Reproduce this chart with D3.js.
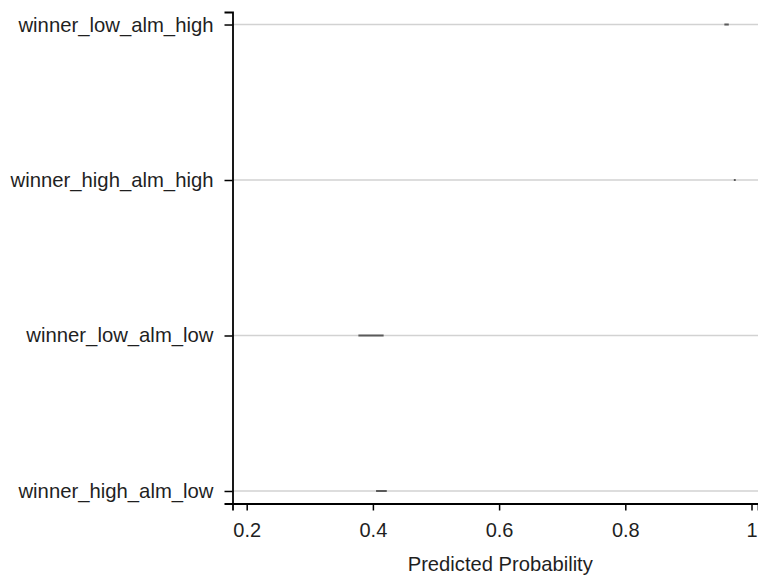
<!DOCTYPE html>
<html>
<head>
<meta charset="utf-8">
<script src="https://cdn.jsdelivr.net/npm/d3@7"></script>
<style>
  html, body { margin: 0; padding: 0; background: #fff; }
  svg { display: block; }
  text { font-family: "Liberation Sans", Arial, Helvetica, sans-serif; fill: #1f1f1f; }
</style>
</head>
<body>
<svg id="chart" width="758" height="576"></svg>
<script>
// Predicted probability intervals by group, listed top to bottom
const categories = ["winner_low_alm_high", "winner_high_alm_high", "winner_low_alm_low", "winner_high_alm_low"];
const lowerBounds = [0.957, 0.972, 0.377, 0.405];
const upperBounds = [0.964, 0.975, 0.417, 0.422];
const xTicks = [0.2, 0.4, 0.6, 0.8, 1];
const xTickLabels = ["0.2", "0.4", "0.6", "0.8", "1"];
const xTitle = "Predicted Probability";

const svg = d3.select("#chart");
const plotLeft = 232.5, plotRight = 758, plotTop = 12, plotBottom = 503.5;

const x = d3.scaleLinear().domain([0.1775, 1.0103]).range([plotLeft, plotRight]);
const y = d3.scalePoint().domain(categories).range([plotTop, plotBottom]).padding(0.0805);

// horizontal reference lines at each category
svg.append("g").selectAll("line").data(categories).join("line")
  .attr("x1", plotLeft).attr("x2", plotRight)
  .attr("y1", d => y(d)).attr("y2", d => y(d))
  .attr("stroke", "#d2d2d2").attr("stroke-width", 1.5);

// interval segments
svg.append("g").selectAll("line").data(categories).join("line")
  .attr("x1", (d, i) => x(lowerBounds[i]))
  .attr("x2", (d, i) => x(upperBounds[i]))
  .attr("y1", d => y(d)).attr("y2", d => y(d))
  .attr("stroke", "#5a5a5a").attr("stroke-width", 2);

// x axis
const xAxis = svg.append("g").attr("transform", `translate(0,${plotBottom})`)
  .call(d3.axisBottom(x).tickValues(xTicks).tickFormat((d, i) => xTickLabels[i]).tickSizeOuter(0).tickSize(7).tickPadding(12));
xAxis.select(".domain").attr("stroke", "#000").attr("stroke-width", 1.8);
xAxis.selectAll(".tick line").attr("stroke", "#000").attr("stroke-width", 1.5);
xAxis.selectAll(".tick text").attr("font-size", 20).attr("fill", "#1f1f1f")
  .attr("font-family", "Liberation Sans, Arial, sans-serif");

// y axis
const yAxis = svg.append("g").attr("transform", `translate(${plotLeft},0)`)
  .call(d3.axisLeft(y).tickSizeOuter(0).tickSize(8).tickPadding(11));
yAxis.select(".domain").attr("stroke", "#000").attr("stroke-width", 1.8);
yAxis.selectAll(".tick line").attr("stroke", "#000").attr("stroke-width", 1.5);
yAxis.selectAll(".tick text").attr("font-size", 20.3).attr("fill", "#1f1f1f")
  .attr("font-family", "Liberation Sans, Arial, sans-serif");

// x axis title
svg.append("text")
  .attr("x", (plotLeft + plotRight) / 2 + 5).attr("y", 571)
  .attr("text-anchor", "middle")
  .attr("font-size", 20.2)
  .text(xTitle);
</script>
</body>
</html>
